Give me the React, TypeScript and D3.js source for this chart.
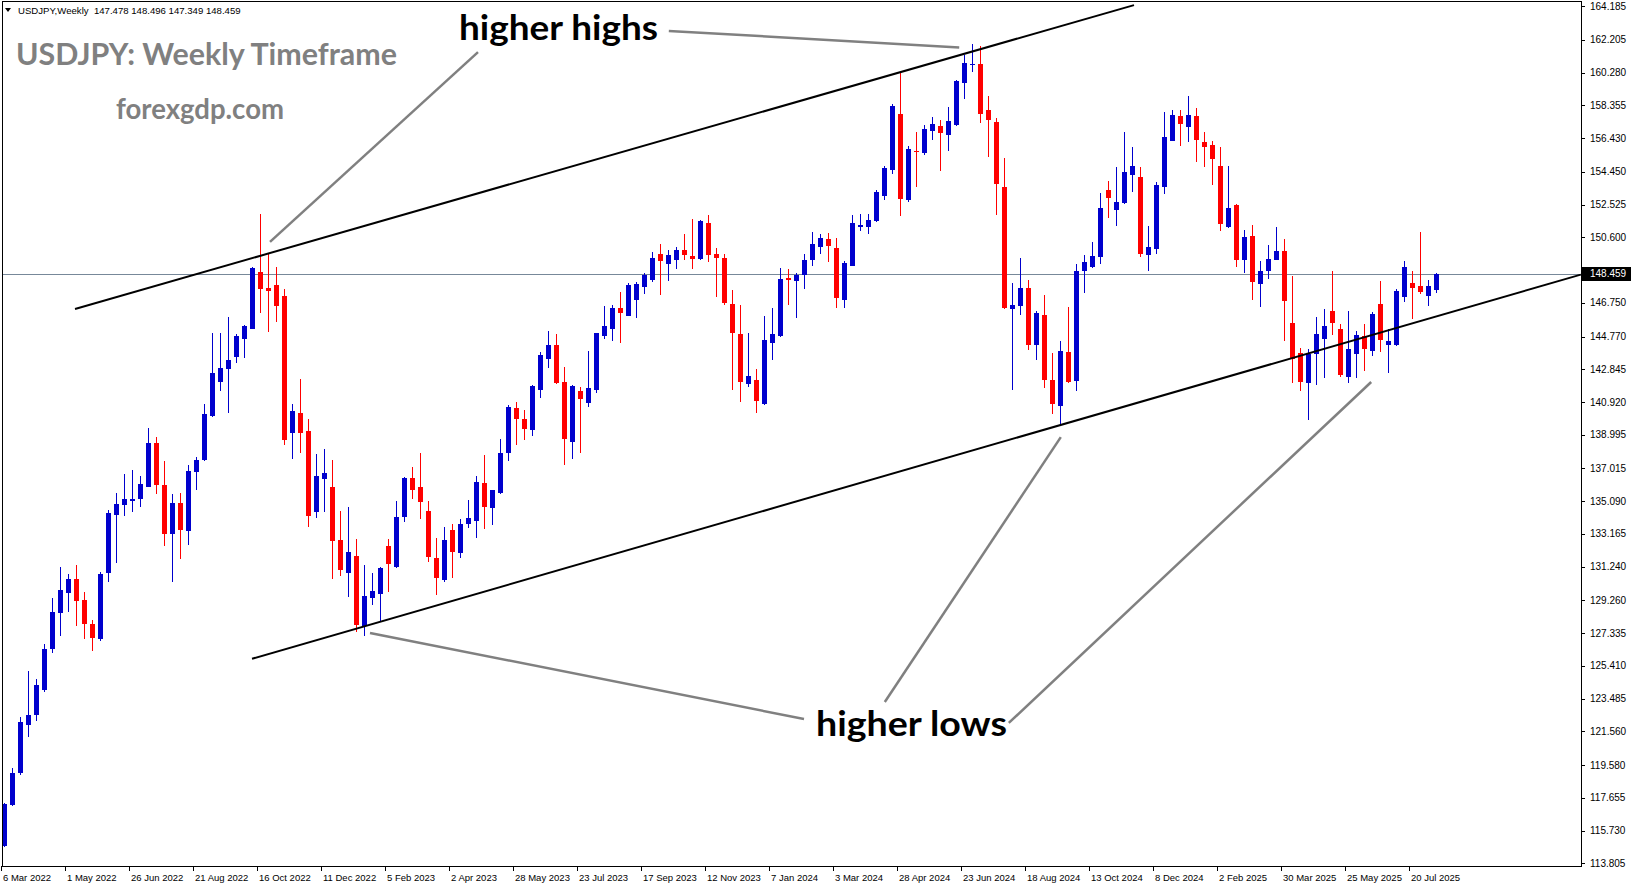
import { useRef, useEffect } from "react"
import * as d3 from "d3"

// weekly USDJPY candles, one per week starting 6 Mar 2022
const symbol = "USDJPY,Weekly"
const lastQuote = [147.478, 148.496, 147.349, 148.459]
const bidPrice = 148.459

const open = [
  114.83, 117.25, 119.1, 121.95, 122.5, 124.0, 126.4, 128.5, 129.7, 130.5,
  129.3, 127.9, 127.0, 130.85, 134.3, 134.85, 135.1, 135.2, 135.95, 138.5,
  136.05, 133.15, 135.0, 133.35, 136.8, 137.5, 140.1, 142.1, 142.85, 143.55,
  144.6, 145.2, 148.55, 147.6, 147.8, 147.15, 139.1, 140.3, 139.2, 134.45,
  136.4, 135.9, 132.8, 130.85, 131.9, 127.75, 129.4, 129.65, 132.45, 131.2,
  134.15, 136.45, 135.95, 134.5, 131.75, 130.45, 133.4, 132.05, 133.75, 133.9,
  136.15, 134.7, 135.55, 137.9, 140.55, 139.95, 139.3, 141.6, 143.45, 144.25,
  142.1, 138.55, 141.55, 140.85, 141.6, 144.8, 145.2, 146.45, 145.95, 146.9,
  147.7, 148.1, 149.6, 149.05, 149.25, 149.85, 149.5, 149.3, 151.45, 149.6,
  149.4, 146.7, 144.9, 142.0, 142.2, 140.8, 144.4, 144.8, 148.2, 148.05,
  148.4, 149.25, 150.05, 150.5, 150.0, 146.9, 148.9, 151.2, 151.2, 151.55,
  153.05, 154.55, 157.85, 152.8, 155.7, 155.55, 156.85, 157.15, 156.6, 157.2,
  159.7, 160.7, 160.8, 158.1, 157.4, 153.55, 146.4, 146.55, 147.65, 144.3,
  146.05, 142.2, 140.7, 143.85, 142.15, 148.6, 148.85, 149.45, 153.4, 152.2,
  152.6, 154.25, 154.15, 149.55, 149.9, 153.55, 156.25, 157.75, 157.1, 157.75,
  156.2, 156.0, 154.8, 151.2, 152.5, 149.25, 150.65, 147.85, 148.65, 149.25,
  149.8, 145.55, 143.8, 142.05, 143.75, 144.6, 146.3, 145.2, 142.4, 143.75,
  144.8, 143.9, 146.7, 144.25, 144.3, 147.1, 147.9, 147.75, 147.15, 147.478,
]
const high = [
  117.35, 119.4, 122.4, 125.1, 124.65, 126.7, 129.4, 131.25, 130.8, 131.35,
  129.75, 128.1, 130.95, 134.55, 135.55, 136.7, 136.95, 136.55, 139.4, 138.85,
  137.45, 135.5, 135.55, 137.2, 137.7, 140.8, 144.95, 144.95, 145.9, 144.9,
  145.45, 148.85, 151.95, 149.7, 148.85, 147.55, 140.8, 142.25, 139.9, 137.85,
  138.15, 137.5, 134.5, 134.75, 132.85, 131.35, 130.85, 131.2, 132.9, 135.1,
  136.5, 137.1, 137.9, 135.1, 132.95, 133.55, 133.75, 134.05, 135.15, 136.55,
  137.8, 135.75, 138.75, 140.75, 140.9, 140.45, 141.9, 143.85, 145.1, 144.9,
  143.0, 141.95, 141.8, 143.9, 145.0, 146.55, 146.6, 147.4, 147.9, 147.95,
  148.5, 149.75, 150.2, 149.85, 150.05, 150.8, 151.7, 151.6, 151.9, 150.0,
  149.65, 147.5, 146.6, 144.95, 142.85, 146.0, 146.45, 148.8, 148.75, 148.5,
  149.6, 150.9, 150.8, 150.85, 150.55, 149.2, 151.9, 151.95, 151.95, 153.4,
  154.8, 158.45, 160.25, 155.95, 156.8, 157.2, 157.7, 157.5, 158.25, 159.85,
  161.3, 161.95, 161.85, 158.9, 157.6, 155.25, 147.9, 149.4, 148.1, 146.25,
  147.2, 143.8, 144.5, 146.5, 149.05, 149.55, 150.3, 153.2, 153.9, 154.75,
  156.8, 155.9, 154.75, 151.25, 153.85, 157.95, 158.1, 158.1, 158.9, 158.2,
  156.8, 156.25, 155.9, 154.8, 152.55, 151.05, 151.3, 149.2, 150.15, 151.2,
  150.5, 148.3, 144.1, 144.05, 145.9, 146.4, 148.65, 145.5, 146.3, 145.1,
  145.5, 146.2, 148.05, 145.2, 147.55, 149.2, 148.65, 150.9, 148.1, 148.496,
]
const low = [
  114.75, 117.2, 119.0, 121.25, 122.2, 123.9, 126.2, 127.15, 128.6, 127.75,
  127.0, 126.3, 126.85, 130.35, 131.45, 134.2, 134.45, 134.75, 135.9, 135.5,
  132.45, 130.35, 131.7, 132.5, 135.75, 137.45, 140.05, 141.55, 140.3, 143.2,
  143.5, 145.2, 146.15, 145.05, 145.6, 138.4, 137.6, 137.95, 133.55, 134.1,
  134.45, 130.5, 130.7, 129.45, 127.4, 127.15, 129.0, 128.0, 129.75, 131.15,
  133.85, 135.2, 134.05, 131.5, 129.6, 130.35, 130.55, 131.75, 133.5, 132.95,
  133.45, 133.7, 135.5, 137.45, 138.4, 138.7, 138.95, 141.15, 142.9, 142.0,
  137.2, 137.6, 137.95, 140.6, 141.45, 144.6, 144.5, 144.4, 145.95, 145.85,
  147.25, 148.0, 147.2, 148.05, 148.75, 149.25, 148.75, 149.25, 149.15, 147.1,
  146.6, 141.6, 140.95, 141.8, 140.25, 140.75, 143.4, 144.75, 146.6, 145.85,
  147.55, 148.9, 149.6, 149.15, 146.45, 146.45, 148.9, 150.95, 150.8, 151.5,
  152.8, 154.3, 151.85, 152.65, 153.55, 155.45, 156.3, 154.5, 155.65, 157.15,
  158.75, 160.3, 157.3, 155.3, 151.9, 146.4, 141.6, 146.05, 143.95, 143.4,
  141.75, 140.2, 139.6, 142.05, 141.55, 147.3, 148.8, 149.05, 151.75, 151.25,
  152.55, 153.25, 149.45, 148.6, 149.65, 153.15, 156.25, 155.95, 156.2, 155.0,
  154.75, 153.7, 150.95, 151.15, 148.85, 148.5, 146.9, 146.5, 148.15, 149.25,
  144.5, 142.05, 141.55, 139.85, 141.9, 142.35, 144.85, 142.4, 142.05, 142.35,
  142.75, 143.6, 143.85, 142.6, 144.2, 146.8, 145.8, 147.25, 146.55, 147.349,
]
const close = [
  117.28, 119.1, 122.1, 122.5, 124.3, 126.4, 128.6, 129.85, 130.5, 129.25,
  127.9, 127.05, 130.8, 134.4, 134.9, 135.2, 135.25, 136.1, 138.5, 136.05,
  133.15, 135.0, 133.4, 136.85, 137.5, 140.2, 142.6, 142.95, 143.4, 144.8,
  145.4, 148.8, 147.55, 147.45, 146.55, 138.7, 140.4, 139.1, 134.25, 136.55,
  136.75, 132.75, 131.05, 132.1, 127.8, 129.55, 129.8, 131.15, 131.4, 134.15,
  136.45, 135.75, 135.05, 131.8, 130.6, 132.8, 132.1, 133.75, 134.1, 136.25,
  134.75, 135.75, 137.95, 140.6, 139.9, 139.35, 141.85, 143.7, 144.3, 142.05,
  138.75, 141.85, 141.1, 141.75, 144.95, 145.4, 146.45, 146.15, 147.8, 147.85,
  148.4, 149.4, 149.2, 149.55, 149.85, 149.55, 149.3, 151.55, 149.55, 149.4,
  146.75, 144.95, 142.1, 142.45, 141.0, 144.55, 144.9, 148.15, 148.1, 148.4,
  149.25, 150.2, 150.55, 150.1, 147.05, 149.1, 151.45, 151.3, 151.6, 153.25,
  154.65, 158.3, 152.85, 155.8, 155.6, 156.95, 157.25, 156.75, 157.45, 159.8,
  160.85, 160.8, 157.85, 157.5, 153.75, 146.45, 146.6, 147.6, 144.3, 146.15,
  142.2, 140.8, 143.9, 142.1, 148.65, 149.15, 149.5, 152.3, 152.9, 152.65,
  154.45, 154.8, 149.65, 150.05, 153.7, 156.5, 157.8, 157.25, 157.8, 156.3,
  155.9, 155.2, 151.4, 152.3, 149.25, 150.6, 148.0, 148.65, 149.3, 149.8,
  146.85, 143.45, 142.1, 143.75, 144.9, 145.4, 145.55, 142.5, 144.05, 144.85,
  144.05, 146.1, 144.55, 144.5, 147.45, 148.85, 147.6, 147.4, 147.75, 148.459,
]

// date labels every 8 weeks, starting at the first candle
const weekLabels = [
  "6 Mar 2022", "1 May 2022", "26 Jun 2022", "21 Aug 2022", "16 Oct 2022", "11 Dec 2022",
  "5 Feb 2023", "2 Apr 2023", "28 May 2023", "23 Jul 2023", "17 Sep 2023", "12 Nov 2023",
  "7 Jan 2024", "3 Mar 2024", "28 Apr 2024", "23 Jun 2024", "18 Aug 2024", "13 Oct 2024",
  "8 Dec 2024", "2 Feb 2025", "30 Mar 2025", "25 May 2025", "20 Jul 2025",
]
const priceTicks = [
  164.185, 162.205, 160.28, 158.355, 156.43, 154.45, 152.525, 150.6, 146.75, 144.77,
  142.845, 140.92, 138.995, 137.015, 135.09, 133.165, 131.24, 129.26, 127.335, 125.41,
  123.485, 121.56, 119.58, 117.655, 115.73, 113.805,
]

// trend channel, as [bar index, price]
const upperChannel = [[8.875, 146.39], [141.25, 164.25]]
const lowerChannel = [[31, 125.83], [197.1, 148.41]]

// grey pointer lines from the labels, [bar index, price]
const highPointers = [
  [[83.1, 162.73], [119.4, 161.76]],
  [[59.25, 161.49], [33.25, 150.33]],
]
const lowPointers = [
  [[100, 122.29], [45.75, 127.35]],
  [[110.1, 123.29], [132.1, 138.86]],
  [[125.6, 122.06], [170.9, 142.1]],
]

export default function App() {
  const svgRef = useRef<SVGSVGElement>(null)

  function drawChart() {
    const width = 1631
    const height = 888
    const axisX = 1581
    const bottom = 866
    const tahoma = "'Liberation Sans', Arial, sans-serif"
    const calibri = "Lato, 'Open Sans', sans-serif"

    const svg = d3.select(svgRef.current).attr("width", width).attr("height", height)
    svg.selectAll("*").remove()

    svg.append("rect").attr("width", width).attr("height", height).attr("fill", "#fff")

    const x = d3.scaleLinear().domain([0, 179]).range([4, 1436])
    const y = d3.scaleLinear().domain([113.805, 164.185]).range([863.4, 6.2])

    svg
      .append("defs")
      .append("clipPath")
      .attr("id", "plot")
      .append("rect")
      .attr("x", 3)
      .attr("y", 2)
      .attr("width", axisX - 3)
      .attr("height", bottom - 2)

    const plot = svg.append("g").attr("clip-path", "url(#plot)")

    // bid line
    plot
      .append("line")
      .attr("x1", 3)
      .attr("x2", axisX)
      .attr("y1", Math.round(y(bidPrice)) + 0.5)
      .attr("y2", Math.round(y(bidPrice)) + 0.5)
      .attr("stroke", "#778899")
      .attr("stroke-width", 1)

    // candles
    const candles = plot
      .append("g")
      .attr("shape-rendering", "crispEdges")
      .selectAll("g")
      .data(d3.range(open.length))
      .enter()
      .append("g")
    const colour = (i: number) => (close[i] >= open[i] ? "#0000CD" : "#FF0000")
    candles
      .append("line")
      .attr("x1", (i) => Math.round(x(i)) + 0.5)
      .attr("x2", (i) => Math.round(x(i)) + 0.5)
      .attr("y1", (i) => y(high[i]))
      .attr("y2", (i) => y(low[i]))
      .attr("stroke", colour)
      .attr("stroke-width", 1)
    candles
      .append("rect")
      .attr("x", (i) => Math.round(x(i)) - 2)
      .attr("width", 5)
      .attr("y", (i) => y(Math.max(open[i], close[i])))
      .attr("height", (i) => Math.max(1.5, Math.abs(y(open[i]) - y(close[i]))))
      .attr("fill", colour)

    // channel
    const line = d3
      .line<number[]>()
      .x((d) => x(d[0]))
      .y((d) => y(d[1]))
    for (const ch of [upperChannel, lowerChannel]) {
      plot.append("path").attr("d", line(ch)).attr("fill", "none").attr("stroke", "#000").attr("stroke-width", 2)
    }
    for (const p of [...highPointers, ...lowPointers]) {
      plot.append("path").attr("d", line(p)).attr("fill", "none").attr("stroke", "#808080").attr("stroke-width", 2.5)
    }

    // labels on chart
    svg
      .append("text")
      .text("USDJPY: Weekly Timeframe")
      .attr("x", 16)
      .attr("y", 65)
      .attr("textLength", 381)
      .attr("lengthAdjust", "spacingAndGlyphs")
      .attr("fill", "#808080")
      .style("font", `bold 30px ${calibri}`)
    svg
      .append("text")
      .text("forexgdp.com")
      .attr("x", 116)
      .attr("y", 119)
      .attr("textLength", 168)
      .attr("lengthAdjust", "spacingAndGlyphs")
      .attr("fill", "#808080")
      .style("font", `bold 28px ${calibri}`)
    svg
      .append("text")
      .text("higher highs")
      .attr("x", 459)
      .attr("y", 40)
      .attr("textLength", 199)
      .attr("lengthAdjust", "spacingAndGlyphs")
      .attr("fill", "#000")
      .style("font", `bold 35px ${calibri}`)
    svg
      .append("text")
      .text("higher lows")
      .attr("x", 816)
      .attr("y", 736)
      .attr("textLength", 191)
      .attr("lengthAdjust", "spacingAndGlyphs")
      .attr("fill", "#000")
      .style("font", `bold 35px ${calibri}`)

    // header
    svg.append("path").attr("d", "M5,8 L11,8 L8,12 Z").attr("fill", "#000")
    svg
      .append("text")
      .text(symbol + "\u00a0\u00a0" + lastQuote.map((v) => v.toFixed(3)).join(" "))
      .attr("x", 18)
      .attr("y", 14)
      .style("font", `9.6px ${tahoma}`)

    // frame
    svg
      .append("path")
      .attr("d", `M2.5,${bottom + 0.5} V1.5 H${axisX + 0.5} V${bottom + 0.5} Z`)
      .attr("fill", "none")
      .attr("stroke", "#000")
      .attr("stroke-width", 1)
      .attr("shape-rendering", "crispEdges")

    // price axis
    const yAxis = svg.append("g").attr("shape-rendering", "crispEdges")
    yAxis
      .selectAll("line")
      .data(priceTicks)
      .enter()
      .append("line")
      .attr("x1", axisX)
      .attr("x2", axisX + 4)
      .attr("y1", (d) => Math.round(y(d)) + 0.5)
      .attr("y2", (d) => Math.round(y(d)) + 0.5)
      .attr("stroke", "#000")
    yAxis
      .selectAll("text")
      .data(priceTicks)
      .enter()
      .append("text")
      .text((d) => d3.format(".3f")(d))
      .attr("x", axisX + 9)
      .attr("y", (d) => y(d))
      .attr("dy", "0.35em")
      .style("font", `10px ${tahoma}`)

    const by = y(bidPrice)
    svg
      .append("rect")
      .attr("x", axisX + 1)
      .attr("y", Math.round(by) - 7)
      .attr("width", width - axisX - 1)
      .attr("height", 14)
      .attr("fill", "#000")
    svg
      .append("text")
      .text(d3.format(".3f")(bidPrice))
      .attr("x", axisX + 9)
      .attr("y", by)
      .attr("dy", "0.35em")
      .attr("fill", "#fff")
      .style("font", `10px ${tahoma}`)

    // time axis
    const xAxis = svg.append("g")
    const labelled = weekLabels.map((label, k) => ({ label, i: k * 8 }))
    xAxis
      .selectAll("line")
      .data(labelled)
      .enter()
      .append("line")
      .attr("x1", (d) => Math.round(x(d.i)) - 2.5)
      .attr("x2", (d) => Math.round(x(d.i)) - 2.5)
      .attr("y1", bottom)
      .attr("y2", bottom + 5)
      .attr("stroke", "#000")
      .attr("shape-rendering", "crispEdges")
    xAxis
      .selectAll("text")
      .data(labelled)
      .enter()
      .append("text")
      .text((d) => d.label)
      .attr("x", (d) => Math.round(x(d.i)) - 1)
      .attr("y", bottom + 15)
      .style("font", `9.5px ${tahoma}`)
  }

  useEffect(() => {
    drawChart()
  }, [svgRef])

  return (
    <div style={{ position: "absolute", left: 0, top: 0 }}>
      <svg ref={svgRef} style={{ display: "block" }}></svg>
    </div>
  )
}
